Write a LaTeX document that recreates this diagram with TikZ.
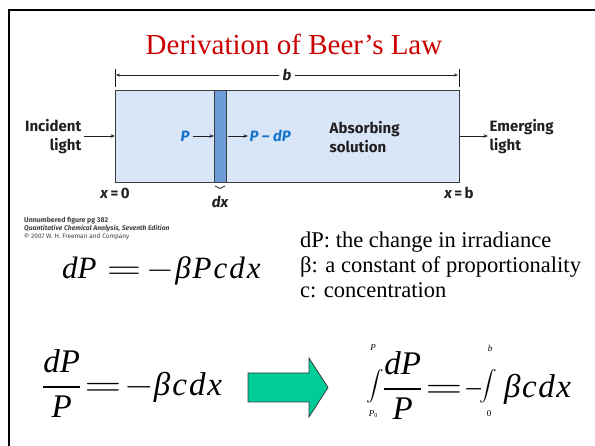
\documentclass[tikz,border=0pt]{standalone}
\usepackage{graphicx}
\usepackage{mathptmx}
\usepackage{fontspec}
\setmainfont{Liberation Serif}
\newfontfamily\figsans{Fira Sans}
\usetikzlibrary{arrows.meta,decorations.pathreplacing}
\definecolor{boxfill}{RGB}{216,230,247}
\definecolor{boxline}{RGB}{60,60,60}
\definecolor{stripfill}{RGB}{110,156,217}
\definecolor{lblblue}{RGB}{20,115,205}
\definecolor{arrowgreen}{RGB}{0,204,153}
\definecolor{titlered}{RGB}{204,0,0}
\definecolor{figtext}{RGB}{35,31,32}
\newcommand{\fracit}[2]{$\displaystyle\frac{\mbox{\itshape #1}}{\mbox{\itshape #2}}$}
\newcommand{\eqsign}{\scalebox{1.45}[1]{$=$}}
\newcommand{\minsign}{\scalebox{1.15}[1]{$-$}}
\newcommand{\shortmin}{\scalebox{0.75}[1]{$-$}}
\newcommand{\bigint}{\scalebox{1}[0.86]{\fontsize{19.5}{20}\selectfont$\displaystyle\int$}}
\begin{document}
\begin{tikzpicture}[x=1pt,y=-1pt,
  figlbl/.style={text=figtext,font=\figsans\bfseries\fontsize{15}{19}\selectfont,inner sep=1.5pt},
  figit/.style={figlbl,font=\figsans\bfseries\itshape\fontsize{15}{19}\selectfont},
  bluelbl/.style={text=lblblue,font=\figsans\bfseries\itshape\fontsize{15}{19}\selectfont,inner sep=1.5pt},
  capline/.style={text=figtext!85,font=\figsans\fontsize{7}{8}\selectfont,inner sep=0pt,anchor=base west},
  flowarrow/.style={draw=figtext,line width=0.9pt,-{Stealth[length=4.5pt,width=3.5pt]}},
  dimarrow/.style={draw=figtext,line width=0.8pt,-{Stealth[length=4pt,width=3pt]}},
  eqone/.style={inner sep=0pt,font=\fontsize{31}{36}\selectfont},
  eqtwo/.style={inner sep=0pt,font=\fontsize{33}{38}\selectfont},
  limtxt/.style={inner sep=0pt,font=\fontsize{9}{10}\selectfont},
  listtxt/.style={inner sep=0pt,anchor=base west,font=\fontsize{22.5}{25}\selectfont}]
\useasboundingbox (0,0) rectangle (595,446);
% frame
\draw[line width=2pt] (9,446) -- (9,10) -- (595,10);
% title
\node[text=titlered,font=\fontsize{29}{34}\selectfont,anchor=base,inner sep=0pt] (title) at (294,55) {Derivation of Beer’s Law};
% cell and strip
\node[draw=boxline,fill=boxfill,line width=1.2pt,minimum width=344pt,minimum height=92pt,inner sep=0pt,anchor=north west] (cell) at (115,90) {};
\node[draw=boxline,fill=stripfill,line width=1.2pt,minimum width=12pt,minimum height=92pt,inner sep=0pt,anchor=north west] (strip) at (214,90) {};
% dimension b
\coordinate (tlt) at (115,69);
\coordinate (tlb) at (115,87);
\coordinate (trt) at (459,69);
\coordinate (trb) at (459,87);
\draw[draw=figtext,line width=0.9pt] (tlt) -- (tlb);
\draw[draw=figtext,line width=0.9pt] (trt) -- (trb);
\node[figit,inner sep=3pt] (blbl) at (287,75) {b};
\coordinate (bl) at (116,75);
\coordinate (br) at (458,75);
\draw[dimarrow] (blbl) -- (bl);
\draw[dimarrow] (blbl) -- (br);
% labels
\node[figlbl,align=right,anchor=east] (inc) at (83,137) {Incident\\light};
\draw[flowarrow] (inc.east) ++(1,-1) coordinate (incs) (incs) -- (cell.west |- incs);
\node[bluelbl] (pin) at (185,136) {P};
\draw[flowarrow,shorten <=2pt] (pin.east) -- (strip.west |- pin.east);
\node[bluelbl,anchor=west] (pout) at (248,136) {P – dP};
\draw[flowarrow,shorten <=1pt] (strip.east |- pout.west) -- (pout.west);
\node[figlbl,align=left,anchor=west] (absb) at (328,137) {Absorbing\\solution};
\node[figlbl,align=left,anchor=west] (emg) at (488,137) {Emerging\\light};
\draw[flowarrow] (cell.east |- emg.west) ++(0,-1) coordinate (emgs) (emgs) -- (emg.west |- emgs);
\node[figlbl] (xzero) at (115,193) {\itshape x\upshape\hspace{2.5pt}=\hspace{2.5pt}0};
\node[figlbl] (xb) at (459,193) {\itshape x\upshape\hspace{2.5pt}=\hspace{2.5pt}b};
\draw[draw=figtext,line width=0.8pt,decorate,decoration={brace,mirror,amplitude=2.5pt}] (215,186) -- (225,186);
\node[figit] (dxl) at (220,202) {dx};
% caption
\node[capline,font=\figsans\bfseries\fontsize{7}{8}\selectfont] (cap1) at (24,223) {Unnumbered figure pg 382};
\node[capline,font=\figsans\bfseries\itshape\fontsize{6.8}{8}\selectfont] (cap2) at (24,231) {Quantitative Chemical Analysis, Seventh Edition};
\node[capline,font=\figsans\fontsize{6.5}{7}\selectfont] (cap3) at (24,239) {© 2007 W. H. Freeman and Company};
% equation 1
\node[eqone,anchor=base west] (eqa) at (62,279) {\itshape dP\upshape\hspace{10pt}\eqsign\hspace{5pt}\minsign\hspace{1pt}\itshape β\hspace{2pt}P\hspace{2pt}c\hspace{2pt}d\hspace{2pt}x};
% list
\node[listtxt] (la) at (300,248) {dP: the change in irradiance};
\node[listtxt] (lb) at (300,273) {β: a constant of proportionality};
\node[listtxt] (lc) at (300,298) {c: concentration};
% bottom left equation
\node[eqtwo,anchor=west] (eqb) at (42,384) {\fracit{dP}{P}\hspace{3pt}\eqsign\hspace{3pt}\minsign\itshape β\hspace{2pt}c\hspace{2pt}d\hspace{2pt}x};
% big arrow
\draw[draw=boxline,line width=0.8pt,fill=arrowgreen] (248,373) -- (309,373) -- (309,358) -- (328,387.5) -- (309,417) -- (309,402) -- (248,402) -- cycle;
% bottom right equation
\node[eqtwo] (inta) at (375,386) {\bigint};
\node[limtxt] (inta-up) at (373,348) {\itshape P};
\node[limtxt] (inta-lo) at (373,414) {\itshape P\upshape\raisebox{-1.5pt}{\fontsize{6}{6}\selectfont 0}};
\node[eqtwo,anchor=west] (fra) at (383,386) {\fracit{dP}{P}\hspace{3pt}\eqsign\hspace{2pt}\shortmin};
\node[eqtwo] (intb) at (488,386) {\bigint};
\node[limtxt] (intb-up) at (490,348) {\itshape b};
\node[limtxt] (intb-lo) at (489,414) {0};
\node[eqtwo,anchor=base west] (rest) at (504,0 |- fra.base) {\itshape β\hspace{1.5pt}c\hspace{1.5pt}d\hspace{1.5pt}x};
\end{tikzpicture}
\end{document}
